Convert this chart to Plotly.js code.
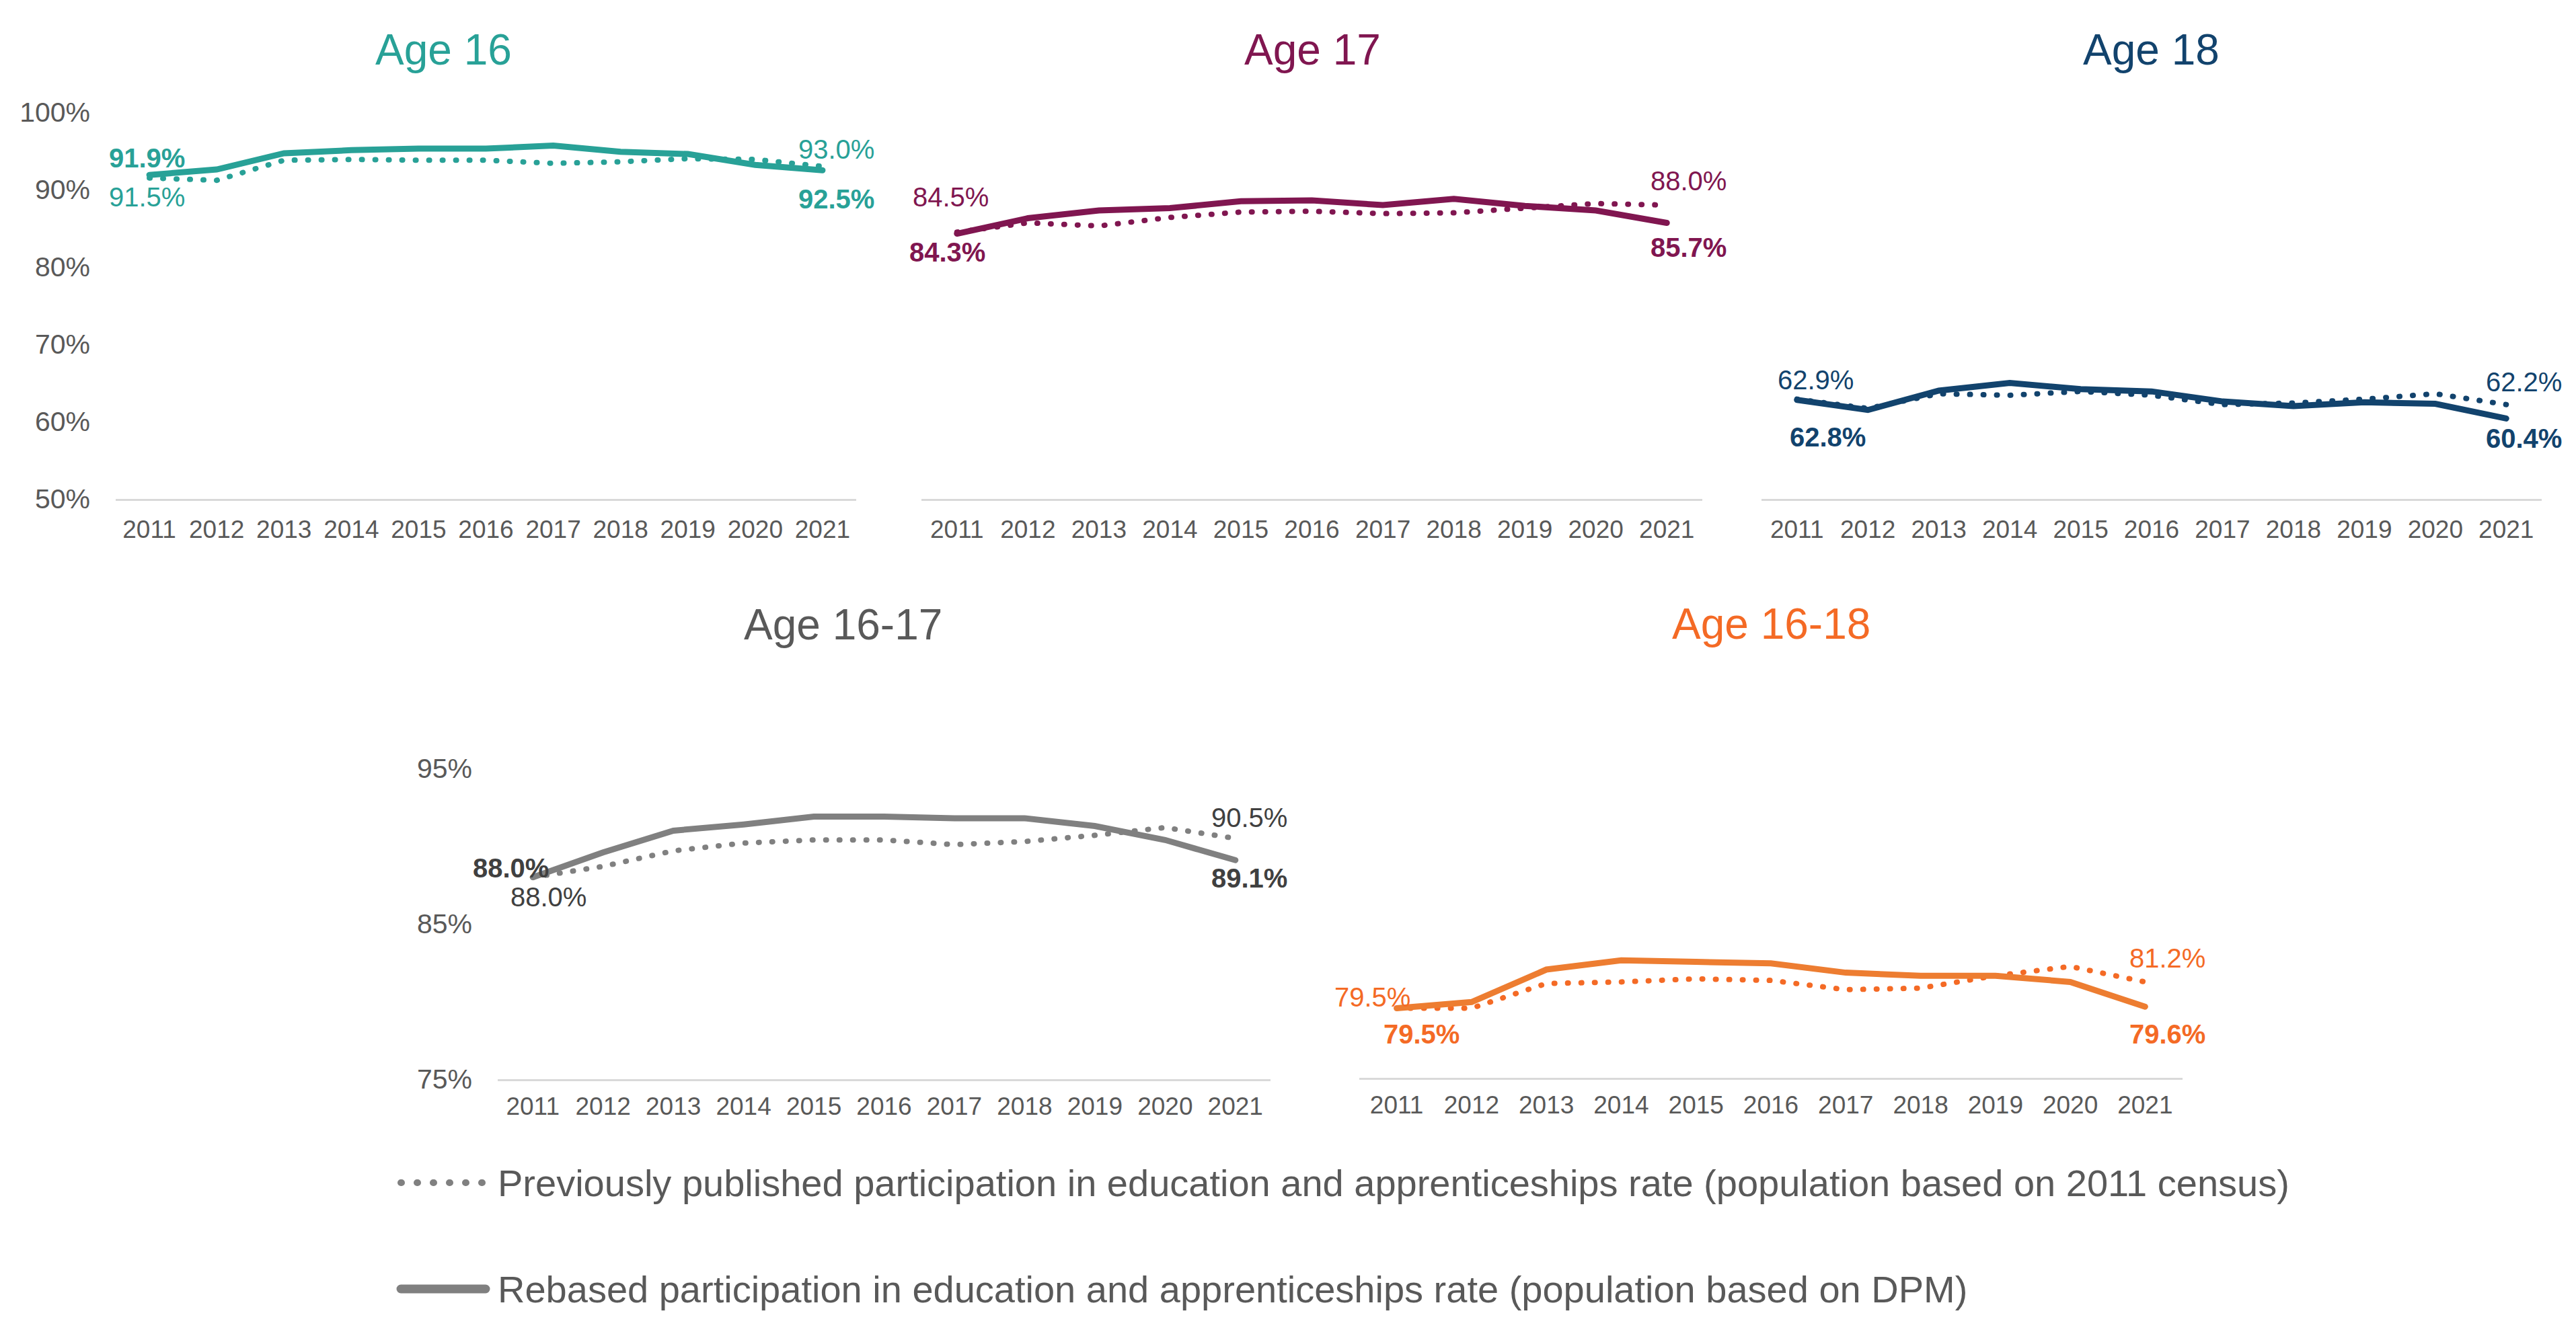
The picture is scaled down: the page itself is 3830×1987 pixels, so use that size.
<!DOCTYPE html>
<html>
<head>
<meta charset="utf-8">
<script src="https://cdn.plot.ly/plotly-3.0.1.min.js"></script>
<style>
  html, body { margin: 0; padding: 0; background: #fff; }
  #chart { width: 3830px; height: 1987px; }
  /* round ends so the dotted lines come out as round dots */
  .js-line { stroke-linecap: round; }
  .shapelayer path { stroke-linecap: round; }
</style>
</head>
<body>
<div id="chart"></div>
<script>
// years on every panel
const years = [2011, 2012, 2013, 2014, 2015, 2016, 2017, 2018, 2019, 2020, 2021];

// participation rates (%)
const age16Previous = [91.5, 91.2, 93.8, 93.9, 93.8, 93.8, 93.4, 93.6, 94.0, 93.9, 93.0];
const age16Rebased  = [91.9, 92.6, 94.7, 95.1, 95.3, 95.3, 95.7, 94.9, 94.6, 93.2, 92.5];

const age17Previous = [84.5, 85.7, 85.3, 86.4, 87.1, 87.2, 86.9, 87.0, 87.6, 88.2, 88.0];
const age17Rebased  = [84.3, 86.3, 87.3, 87.6, 88.5, 88.6, 88.0, 88.8, 87.9, 87.3, 85.7];

const age18Previous = [62.9, 61.7, 63.6, 63.4, 63.9, 63.4, 62.2, 62.4, 62.9, 63.6, 62.2];
const age18Rebased  = [62.8, 61.5, 64.0, 65.0, 64.2, 63.9, 62.6, 62.0, 62.5, 62.3, 60.4];

const age1617Previous = [88.0, 88.7, 89.7, 90.2, 90.4, 90.4, 90.1, 90.3, 90.7, 91.2, 90.5];
const age1617Rebased  = [88.0, 89.6, 91.0, 91.4, 91.9, 91.9, 91.8, 91.8, 91.3, 90.4, 89.1];

const age1618Previous = [79.5, 79.5, 81.1, 81.2, 81.4, 81.3, 80.7, 80.8, 81.6, 82.2, 81.2];
const age1618Rebased  = [79.5, 79.9, 82.0, 82.6, 82.5, 82.4, 81.8, 81.6, 81.6, 81.2, 79.6];

const legendNames = [
  'Previously published participation in education and apprenticeships rate (population based on 2011 census)',
  'Rebased participation in education and apprenticeships rate (population based on DPM)'
];

const W = 3830, H = 1987;
const FONT = 'Liberation Sans, Arial, sans-serif';
const TICK = '#595959';

function dx(a, b) { return [a / W, b / W]; }
function dy(top, bottom) { return [1 - bottom / H, 1 - top / H]; }

// panel setup: box in pixels, title centre, label offsets [xshift, yshift]
const panels = [
  { title: 'Age 16', prev: age16Previous, reb: age16Rebased,
    lineColor: '#28A197', dotColor: '#28A197', textColor: '#28A197', titleColor: '#28A197',
    box: [172, 1273, 167, 742], titlePos: [659, 74], range: [50, 100], ticks: [50, 60, 70, 80, 90, 100], showY: true, xgap: 11,
    off: { prevStart: [-4, -28], rebStart: [-4, 25], prevEnd: [21, 25], rebEnd: [21, -43] } },
  { title: 'Age 17', prev: age17Previous, reb: age17Rebased,
    lineColor: '#801650', dotColor: '#801650', textColor: '#801650', titleColor: '#801650',
    box: [1370, 2531, 167, 742], titlePos: [1951, 74], range: [50, 100], ticks: [50, 60, 70, 80, 90, 100], showY: false, xgap: 11,
    off: { prevStart: [-9, 52], rebStart: [-14, -27], prevEnd: [32, 36], rebEnd: [32, -37] } },
  { title: 'Age 18', prev: age18Previous, reb: age18Rebased,
    lineColor: '#12436D', dotColor: '#12436D', textColor: '#12436D', titleColor: '#12436D',
    box: [2619, 3779, 167, 742], titlePos: [3198, 74], range: [50, 100], ticks: [50, 60, 70, 80, 90, 100], showY: false, xgap: 11,
    off: { prevStart: [28, 29], rebStart: [46, -55], prevEnd: [26, 34], rebEnd: [26, -30] } },
  { title: 'Age 16-17', prev: age1617Previous, reb: age1617Rebased,
    lineColor: '#808080', dotColor: '#808080', textColor: '#404040', titleColor: '#595959',
    box: [740, 1889, 1143, 1605], titlePos: [1253, 929], range: [75, 95], ticks: [75, 85, 95], showY: true, xgap: 6,
    off: { prevStart: [23, -29], rebStart: [-33, 14], prevEnd: [21, 31], rebEnd: [21, -27] } },
  { title: 'Age 16-18', prev: age1618Previous, reb: age1618Rebased,
    lineColor: '#ED7D31', dotColor: '#F46A25', textColor: '#F46A25', titleColor: '#F46A25',
    box: [2021, 3245, 1143, 1603], titlePos: [2633, 928], range: [75, 95], ticks: [75, 85, 95], showY: false, xgap: 6,
    off: { prevStart: [-36, 17], rebStart: [37, -38], prevEnd: [33, 35], rebEnd: [33, -41] } }
];

const data = [];
const annotations = [];
const layout = {
  width: W, height: H,
  margin: { l: 0, r: 0, t: 0, b: 0 },
  paper_bgcolor: '#ffffff', plot_bgcolor: '#ffffff',
  showlegend: false,
  font: { family: FONT, color: TICK },
  shapes: []
};

panels.forEach((p, i) => {
  const n = i === 0 ? '' : String(i + 1);
  const xa = 'x' + n, ya = 'y' + n;
  const last = years.length - 1;

  data.push({
    x: years, y: p.prev, xaxis: xa, yaxis: ya, type: 'scatter', mode: 'lines',
    line: { color: p.dotColor, width: 8, dash: '1px,19px' }, hoverinfo: 'skip'
  });
  data.push({
    x: years, y: p.reb, xaxis: xa, yaxis: ya, type: 'scatter', mode: 'lines',
    line: { color: p.lineColor, width: 9 }, hoverinfo: 'skip'
  });

  layout['xaxis' + n] = {
    domain: dx(p.box[0], p.box[1]), anchor: ya,
    range: [years[0] - 0.5, years[last] + 0.5],
    tickvals: years, ticktext: years.map(String),
    showgrid: false, zeroline: false, ticks: '',
    showline: true, linecolor: '#d9d9d9', linewidth: 3,
    tickfont: { size: 37, color: TICK, family: FONT },
    ticklabelstandoff: p.xgap
  };
  layout['yaxis' + n] = {
    domain: dy(p.box[2], p.box[3]), anchor: xa,
    range: p.range, tickvals: p.ticks, ticktext: p.ticks.map(v => v + '%'),
    showticklabels: p.showY, showgrid: false, zeroline: false, showline: false, ticks: '',
    tickfont: { size: 41, color: TICK, family: FONT },
    ticklabelstandoff: 37
  };

  // panel title
  annotations.push({
    xref: 'paper', yref: 'paper',
    x: p.titlePos[0] / W, y: 1 - p.titlePos[1] / H,
    xanchor: 'center', yanchor: 'middle', showarrow: false,
    text: p.title, font: { size: 64, color: p.titleColor, family: FONT }
  });

  // start and end value labels
  const labels = [
    [0, p.prev, false, p.off.prevStart],
    [0, p.reb, true, p.off.rebStart],
    [last, p.prev, false, p.off.prevEnd],
    [last, p.reb, true, p.off.rebEnd]
  ];
  labels.forEach(([k, series, bold, off]) => {
    const txt = series[k].toFixed(1) + '%';
    annotations.push({
      xref: xa, yref: ya, x: years[k], y: series[k],
      xshift: off[0], yshift: off[1],
      xanchor: 'center', yanchor: 'middle', showarrow: false,
      text: bold ? '<b>' + txt + '</b>' : txt,
      font: { size: 40, color: p.textColor, family: FONT }
    });
  });
});

// legend drawn as sample lines plus text
const legendRows = [
  { y: 1759, dash: '1px,23px', width: 10, text: legendNames[0] },
  { y: 1917, dash: 'solid', width: 13, text: legendNames[1] }
];
legendRows.forEach(r => {
  layout.shapes.push({
    type: 'line', xref: 'paper', yref: 'paper',
    x0: 596 / W, x1: 722 / W, y0: 1 - r.y / H, y1: 1 - r.y / H,
    line: { color: '#808080', width: r.width, dash: r.dash }
  });
  annotations.push({
    xref: 'paper', yref: 'paper', x: 738 / W, y: 1 - r.y / H,
    xanchor: 'left', yanchor: 'middle', showarrow: false,
    text: r.text, font: { size: 56, color: TICK, family: FONT }
  });
});

layout.annotations = annotations;

Plotly.newPlot('chart', data, layout, { staticPlot: true });
</script>
</body>
</html>
